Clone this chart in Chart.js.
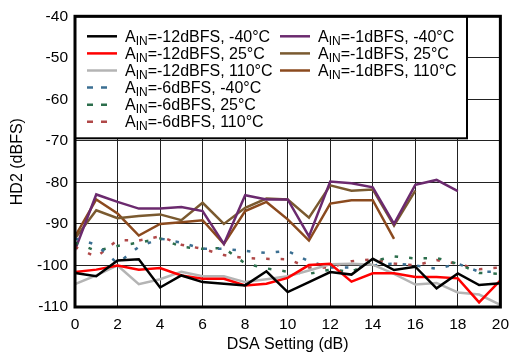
<!DOCTYPE html>
<html><head><meta charset="utf-8">
<script src="https://cdn.jsdelivr.net/npm/chart.js@4/dist/chart.umd.min.js"></script>
<style>html,body{margin:0;padding:0;background:#fff}</style>
</head><body>
<canvas id="c" width="517" height="355"></canvas>
<script>
// ---- data ----
const dsa = [0,1,2,3,4,5,6,7,8,9,10,11,12,13,14,15,16,17,18,19,20];
const yTicks = [-110,-100,-90,-80,-70,-60,-50,-40];
const xTicks = [0,2,4,6,8,10,12,14,16,18,20];

const ain12_m40 = [-101.8,-102.6,-98.8,-98.5,-105.3,-102.4,-104.0,-104.4,-104.8,-101.4,-106.4,-104.0,-101.6,-102.2,-98.4,-101.1,-100.3,-105.5,-101.9,-104.7,-104.3];
const ain12_25  = [-101.6,-101.0,-100.0,-101.0,-100.6,-102.4,-103.2,-103.2,-104.8,-104.4,-103.0,-99.9,-99.6,-103.9,-101.9,-101.9,-102.8,-102.8,-103.1,-108.9,-103.6];
const ain12_110 = [-104.5,-102.4,-100.0,-104.5,-103.3,-101.5,-102.6,-102.6,-104.0,-103.3,-102.6,-101.2,-99.7,-99.6,-99.8,-102.0,-104.6,-104.2,-106.5,-107.0,-109.5];
const ain6_m40  = [-93.5,-95.0,-99.5,-95.5,-93.5,-94.5,-96.0,-96.0,-96.5,-97.0,-96.5,-99.0,-100.5,-100.5,-100.0,-99.5,-100.0,-100.8,-99.6,-101.5,-101.5];
const ain6_25   = [-94.5,-96.5,-95.3,-94.5,-93.5,-95.5,-96.0,-95.8,-99.5,-100.7,-101.5,-102.0,-101.0,-101.5,-99.0,-97.8,-98.3,-98.2,-99.6,-101.8,-102.0];
const ain6_110  = [-95.5,-98.0,-93.9,-94.0,-93.0,-95.0,-96.0,-97.5,-98.2,-98.4,-98.5,-100.5,-100.5,-99.0,-98.5,-99.5,-100.0,-98.7,-99.6,-100.9,-100.5];
const ain1_m40  = [-96.3,-82.9,-84.7,-86.3,-86.3,-85.9,-86.9,-94.8,-83.1,-84.1,-84.1,-93.0,-79.8,-80.2,-81.2,-90.0,-80.6,-79.4,-82.1];
const ain1_25   = [-93.5,-86.7,-88.6,-88.1,-87.7,-89.1,-84.9,-90.0,-86.1,-83.9,-84.1,-88.5,-80.7,-82.0,-81.7,-90.4,-82.0];
const ain1_110  = [-93.0,-84.1,-87.5,-92.8,-90.0,-89.6,-89.1,-94.8,-86.9,-84.7,-88.9,-94.0,-85.1,-84.3,-84.3,-93.6];

const seriesLabels = ['AIN=-12dBFS, -40°C','AIN=-12dBFS, 25°C','AIN=-12dBFS, 110°C',
  'AIN=-6dBFS, -40°C','AIN=-6dBFS, 25°C','AIN=-6dBFS, 110°C',
  'AIN=-1dBFS, -40°C','AIN=-1dBFS, 25°C','AIN=-1dBFS, 110°C'];
const seriesValues = [ain12_m40, ain12_25, ain12_110, ain6_m40, ain6_25, ain6_110, ain1_m40, ain1_25, ain1_110];
const seriesColors = ['#000000','#ff0000','#b4b4b4','#3b6f92','#2c6e4c','#b04848','#6b2a6e','#7a5a30','#8b4a1e'];
const seriesDashed = [false,false,false,true,true,true,false,false,false];

const FONT = '"Liberation Sans", Arial, sans-serif';

const datasets = seriesValues.map((vals, i) => ({
  label: seriesLabels[i],
  data: vals.map((v, k) => ({x: dsa[k], y: v})),
  borderColor: seriesColors[i],
  backgroundColor: seriesColors[i],
  borderWidth: 2.5,
  borderDash: seriesDashed[i] ? [3.5, 11] : [],
  pointRadius: 0,
  tension: 0,
  fill: false
}));

const framePlugin = {
  id: 'frameLegend',
  afterDatasetsDraw(chart) {
    const ctx = chart.ctx, a = chart.chartArea;
    ctx.save();
    // legend box
    const lx = a.left, ly = a.top, lw = 392, lh = 122;
    ctx.fillStyle = '#fff';
    ctx.fillRect(lx, ly, lw, lh);
    ctx.strokeStyle = '#000';
    ctx.lineWidth = 2;
    ctx.strokeRect(lx, ly, lw, lh);
    const order = [[0,1,2,3,4,5],[6,7,8]];
    const colX = [[12, 50],[205, 243]];
    order.forEach((col, c) => {
      col.forEach((si, r) => {
        const cy = ly + 20 + r * 17.1;
        const sx = lx + colX[c][0];
        ctx.strokeStyle = seriesColors[si];
        ctx.lineWidth = 2.5;
        ctx.setLineDash(seriesDashed[si] ? [6, 8] : []);
        ctx.beginPath();
        ctx.moveTo(sx, cy); ctx.lineTo(sx + (seriesDashed[si] ? 20 : 30), cy);
        ctx.stroke();
        ctx.setLineDash([]);
        // text: A + subscript IN + rest
        let tx = lx + colX[c][1];
        const base = cy + 5.5;
        ctx.fillStyle = '#000';
        ctx.textBaseline = 'alphabetic';
        ctx.textAlign = 'left';
        ctx.font = '16px ' + FONT;
        ctx.fillText('A', tx, base);
        tx += ctx.measureText('A').width;
        ctx.font = '12px ' + FONT;
        ctx.fillText('IN', tx, base + 3);
        tx += ctx.measureText('IN').width;
        ctx.font = '16px ' + FONT;
        ctx.fillText(seriesLabels[si].slice(3), tx, base);
      });
    });
    // plot frame
    ctx.strokeStyle = '#000';
    ctx.lineWidth = 3;
    ctx.strokeRect(a.left, a.top, a.right - a.left, a.bottom - a.top);
    ctx.restore();
  }
};

new Chart(document.getElementById('c'), {
  type: 'line',
  data: { datasets },
  options: {
    responsive: false,
    animation: false,
    layout: { padding: { top: 12, right: 12, left: 0, bottom: 0 } },
    plugins: { legend: { display: false }, tooltip: { enabled: false } },
    scales: {
      x: {
        type: 'linear', min: 0, max: 20,
        afterFit(s) { s.height = 48; },
        afterBuildTicks(s) { s.ticks = xTicks.map(v => ({value: v})); },
        grid: { color: '#222', lineWidth: 1, drawTicks: false },
        border: { display: false },
        ticks: { color: '#000', font: { family: FONT, size: 15.5 }, padding: 8, maxRotation: 0 },
        title: { display: true, text: 'DSA Setting (dB)', color: '#000', font: { family: FONT, size: 16 }, padding: { top: 0, bottom: 1 } }
      },
      y: {
        min: -110, max: -40,
        afterFit(s) { s.width = 75; },
        afterBuildTicks(s) { s.ticks = yTicks.map(v => ({value: v})); },
        grid: { color: '#222', lineWidth: 1, drawTicks: false },
        border: { display: false },
        ticks: { color: '#000', font: { family: FONT, size: 15.5 }, padding: 7 },
        title: { display: true, text: 'HD2 (dBFS)', color: '#000', font: { family: FONT, size: 16 }, padding: { top: 8, bottom: 0 } }
      }
    }
  },
  plugins: [framePlugin]
});
</script>
</body></html>
